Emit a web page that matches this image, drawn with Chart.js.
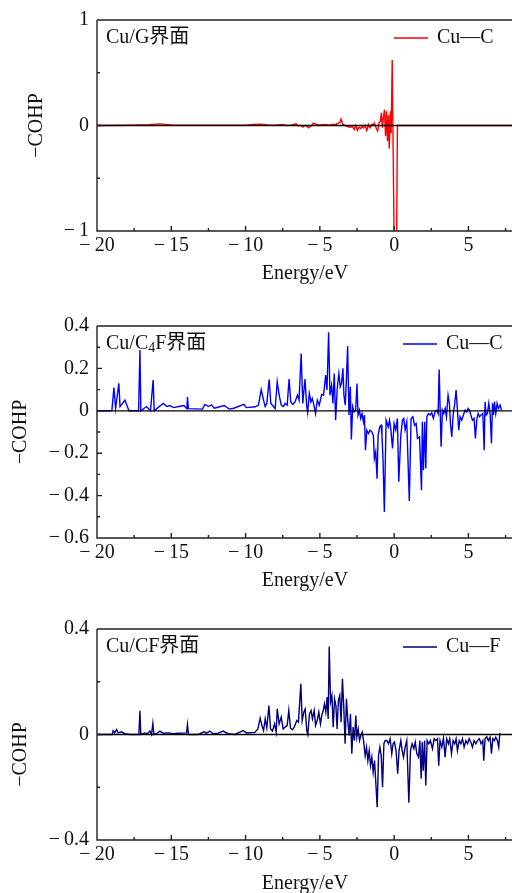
<!DOCTYPE html>
<html>
<head>
<meta charset="utf-8">
<script src="https://cdn.jsdelivr.net/npm/chart.js@4.4.0/dist/chart.umd.min.js"></script>
<style>
  html, body { margin: 0; padding: 0; background: #fff; overflow: hidden; width: 512px; height: 893px; }
  .panel { position: absolute; left: 0; width: 516px; }
</style>
</head>
<body>
<div class="panel" style="top:0;height:290px"><canvas id="cohp-g"></canvas></div>
<div class="panel" style="top:300px;height:296px"><canvas id="cohp-c4f"></canvas></div>
<div class="panel" style="top:600px;height:300px"><canvas id="cohp-cf"></canvas></div>
<script>
// -COHP curves of the Cu interfaces, [energy (eV), -COHP]
const cohpCuG = [
  [-20, 0], [-18, 0.002], [-16.5, 0.008], [-15.8, 0.015], [-15, 0.006], [-13, 0.002], [-11, 0.002],
  [-10, 0.004], [-9.5, 0.01], [-9.0, 0.012], [-8.5, 0.006], [-8.0, 0.004], [-7.5, 0.01], [-7.2, 0],
  [-6.9, 0.006], [-6.6, 0.016], [-6.45, -0.005], [-6.3, 0.003], [-6.15, -0.016], [-6.0, 0.002],
  [-5.85, -0.01], [-5.76, -0.022], [-5.6, -0.005], [-5.43, 0.022], [-5.2, 0.008], [-4.9, 0.006],
  [-4.64, 0.009], [-4.4, 0.002], [-4.19, 0.009], [-3.9, 0.012], [-3.64, 0.03], [-3.57, 0.06],
  [-3.46, 0.01], [-3.3, 0], [-3.14, -0.01], [-2.95, -0.016], [-2.8, -0.01], [-2.69, -0.038],
  [-2.58, 0], [-2.47, -0.047], [-2.38, -0.016], [-2.24, -0.028], [-2.15, -0.01], [-2.05, -0.022],
  [-1.95, 0.003], [-1.84, -0.047], [-1.73, 0.009], [-1.62, -0.022], [-1.5, 0.009], [-1.41, 0.016],
  [-1.33, 0], [-1.29, 0.009], [-1.2, -0.028], [-1.11, -0.053], [-1.02, 0.025], [-0.93, 0.04],
  [-0.86, 0.12], [-0.79, -0.02], [-0.72, 0.08], [-0.65, 0.15], [-0.58, -0.1], [-0.51, 0.135],
  [-0.45, -0.148], [-0.38, 0.1], [-0.33, -0.22], [-0.25, 0.135], [-0.2, -0.07], [-0.13, 0.62],
  [-0.07, -0.18], [0.02, -1.4], [0.15, -1.4], [0.22, 0], [8, 0]
];

const cohpCuC4F = [
  [-20, 0], [-19.0, 0], [-18.86, 0.11], [-18.75, 0.01], [-18.53, 0.13], [-18.45, 0.02], [-18.12, 0.05],
  [-17.85, 0], [-17.2, 0], [-17.11, 0.287], [-17.05, 0], [-16.67, 0.02], [-16.4, 0], [-16.22, 0.145],
  [-16.15, 0], [-15.9, 0.015], [-15.54, 0.035], [-15.3, 0.02], [-15.1, 0.025], [-14.85, 0.015],
  [-14.5, 0.02], [-14.15, 0.025], [-13.95, 0.01], [-13.91, 0.065], [-13.85, 0.01], [-12.9, 0.008],
  [-12.74, 0.03], [-12.5, 0.02], [-12.3, 0.028], [-12.1, 0.012], [-11.8, 0.018], [-11.44, 0.025],
  [-11.1, 0.008], [-10.8, 0.012], [-10.11, 0.03], [-9.95, 0.015], [-9.35, 0.019], [-9.13, 0.027],
  [-8.95, 0.1], [-8.79, 0.05], [-8.68, 0.02], [-8.57, 0.035], [-8.41, 0.148], [-8.3, 0.035],
  [-8.12, 0.02], [-8.01, 0.01], [-7.87, 0.137], [-7.74, 0.074], [-7.6, 0.027], [-7.45, 0.02],
  [-7.34, 0.035], [-7.2, 0.027], [-7.07, 0.15], [-6.96, 0.042], [-6.82, 0.03], [-6.67, 0.042],
  [-6.51, 0.074], [-6.4, 0.05], [-6.26, 0.27], [-6.15, 0.035], [-6.0, 0.15], [-5.89, 0.027],
  [-5.82, -0.008], [-5.71, 0.082], [-5.6, 0.042], [-5.51, 0.058], [-5.4, 0.027], [-5.29, -0.013],
  [-5.17, 0.05], [-5.04, 0.027], [-4.88, 0.077], [-4.75, 0.074], [-4.61, 0.168], [-4.52, 0.098],
  [-4.41, 0.37], [-4.32, 0.074], [-4.21, 0.121], [-4.12, 0.035], [-4.03, 0.176], [-3.94, -0.044],
  [-3.83, 0.105], [-3.72, 0.176], [-3.63, 0.113], [-3.54, 0.129], [-3.45, 0.2], [-3.38, 0.074],
  [-3.29, 0.027], [-3.22, 0.137], [-3.13, 0.305], [-3.04, -0.02], [-2.95, 0.113], [-2.88, -0.135],
  [-2.79, 0.019], [-2.7, -0.005], [-2.59, 0.003], [-2.5, 0.129], [-2.43, -0.02], [-2.34, 0.003],
  [-2.25, -0.036], [-2.16, -0.013], [-2.07, -0.052], [-2.0, -0.02], [-1.93, -0.186], [-1.84, -0.091],
  [-1.73, -0.107], [-1.62, -0.091], [-1.51, -0.099], [-1.4, -0.115], [-1.33, -0.225], [-1.24, -0.194],
  [-1.15, -0.32], [-1.08, -0.115], [-0.97, -0.076], [-0.88, -0.068], [-0.82, -0.115], [-0.75, -0.225],
  [-0.66, -0.477], [-0.54, -0.044], [-0.4, -0.076], [-0.31, -0.044], [-0.22, -0.09], [-0.11, -0.178],
  [0.0, -0.06], [0.11, -0.09], [0.22, -0.036], [0.31, -0.335], [0.45, -0.115], [0.56, -0.044],
  [0.65, -0.036], [0.74, -0.09], [0.85, -0.052], [1.02, -0.425], [1.14, -0.036], [1.26, -0.028],
  [1.37, -0.068], [1.48, -0.06], [1.57, -0.13], [1.71, -0.123], [1.84, -0.375], [1.9, -0.052],
  [1.97, -0.28], [2.06, -0.052], [2.13, -0.272], [2.2, -0.028], [2.31, -0.013], [2.42, -0.02],
  [2.53, -0.009], [2.64, -0.036], [2.76, -0.005], [2.87, 0.003], [2.96, -0.013], [3.03, 0.195],
  [3.1, -0.005], [3.16, -0.17], [3.25, 0.003], [3.34, -0.013], [3.43, 0.011], [3.52, -0.028],
  [3.63, 0.074], [3.72, 0.035], [3.79, -0.06], [3.88, -0.123], [3.97, -0.02], [4.08, 0.035],
  [4.17, 0.098], [4.26, 0.003], [4.35, -0.091], [4.44, -0.028], [4.55, -0.044], [4.66, -0.02],
  [4.78, 0.003], [4.89, -0.005], [4.98, 0.011], [5.07, 0.003], [5.16, -0.02], [5.27, -0.044],
  [5.38, -0.036], [5.47, -0.13], [5.56, -0.044], [5.65, -0.013], [5.74, -0.028], [5.85, -0.02],
  [5.97, -0.013], [6.06, -0.186], [6.12, 0.043], [6.19, -0.02], [6.28, -0.013], [6.37, 0.035],
  [6.46, -0.013], [6.55, -0.154], [6.62, 0.035], [6.69, -0.02], [6.75, 0.043], [6.84, -0.013],
  [6.93, 0.035], [7.02, 0.011], [7.13, 0.027], [7.22, 0.003]
];

const cohpCuCF = [
  [-20, 0], [-18.98, 0], [-18.91, 0.015], [-18.8, 0.006], [-18.68, 0.019], [-18.57, 0.006],
  [-18.35, 0.01], [-18.13, 0.003], [-17.79, 0], [-17.18, 0], [-17.11, 0.09], [-17.05, 0],
  [-16.78, 0.006], [-16.6, 0.003], [-16.44, 0.013], [-16.33, 0], [-16.24, 0.042], [-16.17, 0],
  [-16.0, 0.003], [-15.77, 0.013], [-15.55, 0.005], [-15.21, 0.006], [-14.87, 0.003], [-14.54, 0.005],
  [-13.97, 0.006], [-13.91, 0.038], [-13.84, 0], [-13.19, 0], [-12.79, 0.01], [-12.63, 0.005],
  [-12.4, 0.013], [-12.18, 0.003], [-11.84, 0.005], [-11.51, 0.013], [-11.17, 0.003], [-10.72, 0],
  [-10.16, 0.015], [-9.94, 0.006], [-9.38, 0.008], [-9.17, 0.021], [-9.02, 0.062], [-8.9, 0.034],
  [-8.79, 0.015], [-8.68, 0.059], [-8.57, 0.025], [-8.43, 0.11], [-8.32, 0.021], [-8.19, 0.013],
  [-8.05, 0.04], [-7.94, 0.009], [-7.87, 0.097], [-7.74, 0.04], [-7.6, 0.066], [-7.47, 0.021],
  [-7.34, 0.028], [-7.2, 0.034], [-7.09, 0.091], [-6.98, 0.025], [-6.84, 0.018], [-6.71, 0.03],
  [-6.55, 0.053], [-6.44, 0.047], [-6.28, 0.192], [-6.19, 0.053], [-6.08, 0.085], [-5.99, 0.097],
  [-5.88, 0.015], [-5.81, 0], [-5.7, 0.078], [-5.59, 0.091], [-5.5, 0.059], [-5.38, 0.091],
  [-5.29, 0.034], [-5.18, 0.053], [-5.07, 0.085], [-4.96, 0.04], [-4.87, 0.072], [-4.75, 0.097],
  [-4.69, 0.116], [-4.6, 0.085], [-4.51, 0.142], [-4.44, 0.059], [-4.37, 0.334], [-4.28, 0.123],
  [-4.19, 0.148], [-4.1, 0.028], [-4.01, 0.135], [-3.92, 0.11], [-3.84, 0.021], [-3.75, 0.129],
  [-3.66, 0.148], [-3.57, 0.047], [-3.48, 0.211], [-3.39, 0.104], [-3.3, -0.035], [-3.21, 0.135],
  [-3.12, 0.053], [-3.03, -0.004], [-2.94, 0.078], [-2.85, -0.073], [-2.76, 0.028], [-2.67, -0.023],
  [-2.58, 0.072], [-2.51, -0.01], [-2.42, 0.021], [-2.33, -0.023], [-2.24, -0.004], [-2.15, 0.009],
  [-2.06, -0.023], [-1.95, -0.08], [-1.86, -0.048], [-1.77, -0.099], [-1.68, -0.061], [-1.59, -0.118],
  [-1.5, -0.086], [-1.41, -0.143], [-1.32, -0.099], [-1.23, -0.187], [-1.14, -0.276], [-1.05, -0.08],
  [-0.96, -0.048], [-0.87, -0.08], [-0.78, -0.2], [-0.69, -0.035], [-0.6, -0.023], [-0.49, -0.023],
  [-0.38, -0.035], [-0.27, -0.016], [-0.16, -0.073], [-0.07, -0.035], [0.02, -0.029], [0.13, -0.061],
  [0.24, -0.149], [0.33, -0.061], [0.45, -0.023], [0.54, -0.061], [0.63, -0.086], [0.74, -0.048],
  [0.85, -0.023], [0.99, -0.259], [1.1, -0.061], [1.21, -0.035], [1.33, -0.054], [1.42, -0.029],
  [1.53, -0.073], [1.64, -0.086], [1.73, -0.023], [1.82, -0.168], [1.89, -0.029], [1.96, -0.137],
  [2.05, -0.023], [2.13, -0.193], [2.22, -0.023], [2.33, -0.035], [2.44, -0.023], [2.58, -0.054],
  [2.69, -0.016], [2.8, -0.023], [2.92, -0.016], [3.0, -0.118], [3.09, -0.023], [3.21, -0.048],
  [3.32, -0.013], [3.43, -0.086], [3.54, -0.016], [3.65, -0.035], [3.74, -0.016], [3.86, -0.073],
  [3.97, -0.023], [4.08, -0.035], [4.17, -0.016], [4.26, -0.061], [4.38, -0.023], [4.49, -0.035],
  [4.6, -0.016], [4.71, -0.048], [4.83, -0.023], [4.94, -0.035], [5.05, -0.016], [5.16, -0.029],
  [5.27, -0.048], [5.38, -0.023], [5.5, -0.035], [5.61, -0.023], [5.74, -0.016], [5.85, -0.035],
  [5.97, -0.023], [6.03, -0.099], [6.12, -0.016], [6.23, -0.008], [6.34, -0.023], [6.46, -0.01],
  [6.55, -0.073], [6.64, -0.016], [6.75, -0.023], [6.84, -0.01], [6.95, -0.023], [7.04, -0.048],
  [7.11, 0.003], [7.15, 0.005]
];

// axis ticks
const energyTicks = [-20, -15, -10, -5, 0, 5];
const energyMinor = [-17.5, -12.5, -7.5, -2.5, 2.5, 7.5];
const ticksG = [1, 0, -1];
const minorG = [0.5, -0.5];
const ticksC4F = [0.4, 0.2, 0, -0.2, -0.4, -0.6];
const minorC4F = [0.3, 0.1, -0.1, -0.3, -0.5];
const ticksCF = [0.4, 0, -0.4];
const minorCF = [0.2, -0.2];

const SERIF = "'Liberation Serif', 'Noto Sans CJK SC', serif";
Chart.defaults.font.family = SERIF;
Chart.defaults.font.size = 20;
Chart.defaults.color = '#111';

// LaTeX-style minus with a little space after it
function signed(v) {
  if (v === 0) return '0';
  return (v < 0 ? '\u2212\u2009' : '') + Math.abs(v);
}

// frame, inward ticks, zero line, panel caption and legend
const frame = {
  id: 'frame',
  afterDatasetsDraw(chart, _args, o) {
    const { ctx, chartArea: a, scales: { x, y } } = chart;
    ctx.save();

    const y0 = y.getPixelForValue(0);
    ctx.strokeStyle = '#000';
    ctx.lineWidth = 1.3;
    ctx.beginPath();
    ctx.moveTo(a.left, y0);
    ctx.lineTo(a.right, y0);
    ctx.stroke();

    ctx.strokeStyle = '#222';
    ctx.lineWidth = 1.4;
    ctx.beginPath();
    ctx.moveTo(a.left, a.top);
    ctx.lineTo(a.right, a.top);
    ctx.moveTo(a.left, a.top);
    ctx.lineTo(a.left, a.bottom);
    ctx.lineTo(a.right, a.bottom);
    for (const v of energyTicks) {
      const px = x.getPixelForValue(v);
      ctx.moveTo(px, a.bottom);
      ctx.lineTo(px, a.bottom - 5);
    }
    for (const v of energyMinor) {
      const px = x.getPixelForValue(v);
      ctx.moveTo(px, a.bottom);
      ctx.lineTo(px, a.bottom - 3);
    }
    for (const v of o.yTicks) {
      const py = y.getPixelForValue(v);
      ctx.moveTo(a.left, py);
      ctx.lineTo(a.left + 5, py);
    }
    for (const v of o.yMinor) {
      const py = y.getPixelForValue(v);
      ctx.moveTo(a.left, py);
      ctx.lineTo(a.left + 3, py);
    }
    ctx.stroke();

    // caption, with optional subscript pieces
    const ty = a.top + 18;
    ctx.fillStyle = '#111';
    ctx.textBaseline = 'middle';
    let tx = a.left + 9;
    for (const [t, sub] of o.caption) {
      ctx.font = (sub ? '14px ' : '20px ') + SERIF;
      ctx.fillText(t, tx, sub ? ty + 4 : ty);
      tx += ctx.measureText(t).width;
    }

    const ds = chart.data.datasets[0];
    ctx.strokeStyle = ds.borderColor;
    ctx.lineWidth = 1.3;
    ctx.beginPath();
    ctx.moveTo(o.legendX, ty);
    ctx.lineTo(o.legendX + 34, ty);
    ctx.stroke();
    ctx.font = '20px ' + SERIF;
    ctx.fillText(ds.label, o.legendX + 43, ty);
    ctx.restore();
  }
};

function cohpChart(id, p) {
  return new Chart(document.getElementById(id), {
    type: 'line',
    data: {
      datasets: [{
        label: p.label,
        data: p.data.map(([e, v]) => ({ x: e, y: v })),
        borderColor: p.color,
        borderWidth: 1.4,
        pointRadius: 0,
        tension: 0,
        fill: false
      }]
    },
    options: {
      responsive: true,
      maintainAspectRatio: false,
      animation: false,
      events: [],
      layout: { padding: { top: p.top, right: 3, left: 0, bottom: 0 } },
      plugins: {
        legend: { display: false },
        tooltip: { enabled: false },
        frame: { caption: p.caption, legendX: p.legendX, yTicks: p.yTicks, yMinor: p.yMinor }
      },
      scales: {
        x: {
          type: 'linear', min: -20, max: 8,
          afterFit: s => { s.height = p.xHeight; },
          afterBuildTicks: s => { s.ticks = energyTicks.map(v => ({ value: v })); },
          grid: { display: false, drawTicks: false },
          border: { display: false },
          ticks: { padding: 3, maxRotation: 0, autoSkip: false, callback: signed },
          title: { display: true, text: 'Energy/eV', padding: { top: 0, bottom: p.xTitlePad } }
        },
        y: {
          type: 'linear', min: p.yMin, max: p.yMax,
          afterFit: s => { s.width = 97; },
          afterBuildTicks: s => { s.ticks = p.yTicks.map(v => ({ value: v })); },
          grid: { display: false, drawTicks: false },
          border: { display: false },
          ticks: { padding: 8, callback: signed },
          title: { display: true, text: p.yTitle, padding: { top: p.yTitlePad, bottom: 0 } }
        }
      }
    },
    plugins: [frame]
  });
}

cohpChart('cohp-g', {
  label: 'Cu\u2014C', data: cohpCuG, color: '#ff0000',
  caption: [['Cu/G界面']], legendX: 394,
  yMin: -1, yMax: 1, yTicks: ticksG, yMinor: minorG, yTitle: '\u2212COHP',
  top: 19, xHeight: 59, xTitlePad: 4, yTitlePad: 25
});
cohpChart('cohp-c4f', {
  label: 'Cu\u2014C', data: cohpCuC4F, color: '#0000ff',
  caption: [['Cu/C'], ['4', true], ['F界面']], legendX: 403,
  yMin: -0.6, yMax: 0.4, yTicks: ticksC4F, yMinor: minorC4F, yTitle: '\u2212COHP',
  top: 26, xHeight: 58, xTitlePad: 3, yTitlePad: 9
});
// this panel's axis title sits a little lower; the trailing en spaces push it down
cohpChart('cohp-cf', {
  label: 'Cu\u2014F', data: cohpCuCF, color: '#000080',
  caption: [['Cu/CF界面']], legendX: 403,
  yMin: -0.4, yMax: 0.4, yTicks: ticksCF, yMinor: minorCF, yTitle: '\u2212COHP\u2002\u2002\u2002\u2002',
  top: 29, xHeight: 60, xTitlePad: 4, yTitlePad: 9
});
</script>
</body>
</html>
